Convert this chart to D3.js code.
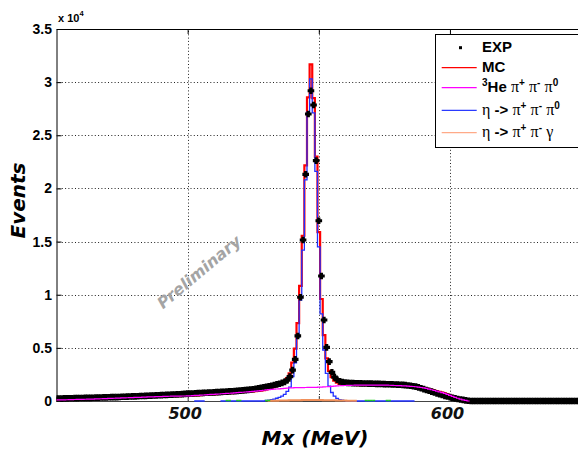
<!DOCTYPE html>
<html>
<head>
<meta charset="utf-8">
<script src="https://cdn.jsdelivr.net/npm/d3@7"></script>
<style>
  body { margin: 0; background: #fff; }
  svg { display: block; }
</style>
</head>
<body>
<svg id="chart" width="578" height="452"></svg>
<script>
// Missing-mass spectrum, 1 MeV bins; each series lists counts from its first bin centre.
const expStart = 450;
const expCounts = [
  230, 240, 225, 250, 245, 260, 255, 270, 265, 280,
  285, 290, 300, 295, 310, 320, 315, 330, 335, 345,
  350, 360, 370, 365, 380, 395, 400, 410, 420, 430,
  440, 450, 465, 470, 480, 495, 505, 515, 525, 540,
  550, 560, 575, 585, 600, 610, 625, 640, 650, 670,
  690, 700, 710, 725, 735, 750, 760, 775, 785, 800,
  815, 830, 840, 855, 870, 885, 900, 915, 935, 955,
  975, 1000, 1020, 1050, 1080, 1110, 1150, 1190, 1230, 1280,
  1330, 1390, 1440, 1500, 1560, 1620, 1700, 1800, 1960, 2300,
  2900, 3920, 6120, 9760, 15150, 21330, 27000, 29190, 27850, 22610,
  16960, 11760, 7620, 5050, 3700, 2700, 2250, 2000, 1850, 1780,
  1740, 1710, 1690, 1680, 1670, 1665, 1660, 1650, 1650, 1640,
  1630, 1620, 1615, 1605, 1600, 1590, 1580, 1575, 1565, 1555,
  1545, 1530, 1515, 1490, 1460, 1430, 1390, 1350, 1280, 1200,
  1120, 1040, 960, 880, 800, 720, 640, 560, 480, 420,
  360, 300, 250, 190, 140, 100, 60, 25, 0, 0,
  0, 0, 0, 0, 0, 0, 0, 0, 0, 0,
  0, 0, 0, 0, 0, 0, 0, 0, 0, 0,
  0, 0, 0, 0, 0, 0, 0, 0, 0, 0,
  0, 0, 0, 0, 0, 0, 0, 0, 0, 0,
  0
];

const mcStart = 450;
const mcTotal = [
  100, 105, 110, 115, 120, 125, 130, 140, 145, 150,
  160, 165, 170, 180, 185, 195, 200, 210, 220, 230,
  245, 250, 260, 270, 275, 285, 295, 305, 315, 325,
  335, 345, 350, 360, 370, 380, 390, 395, 405, 415,
  420, 430, 440, 445, 450, 455, 460, 465, 470, 470,
  475, 490, 505, 520, 535, 550, 565, 580, 600, 615,
  630, 645, 660, 680, 695, 710, 730, 745, 765, 785,
  805, 825, 845, 865, 890, 910, 935, 960, 985, 1010,
  1090, 1170, 1235, 1320, 1425, 1530, 1665, 1860, 2165, 2590,
  3605, 4920, 7330, 10840, 15550, 22160, 28570, 31680, 28490, 22985,
  15890, 9595, 6205, 4015, 2830, 2245, 1910, 1725, 1615, 1565,
  1540, 1525, 1515, 1505, 1505, 1490, 1495, 1495, 1500, 1500,
  1500, 1500, 1500, 1495, 1495, 1490, 1485, 1480, 1470, 1460,
  1450, 1440, 1430, 1415, 1400, 1385, 1365, 1340, 1310, 1270,
  1230, 1180, 1120, 1060, 990, 920, 850, 780, 710, 620,
  530, 440, 350, 260, 180, 110, 50, 0
];

const he3Start = 450;
const he3PiPiPi0 = [
  100, 105, 110, 115, 120, 125, 130, 140, 145, 150,
  160, 165, 170, 180, 185, 195, 200, 210, 220, 230,
  245, 250, 260, 270, 275, 285, 295, 305, 315, 325,
  335, 345, 350, 360, 370, 380, 390, 395, 405, 415,
  420, 430, 440, 445, 450, 455, 460, 465, 470, 470,
  475, 490, 505, 520, 535, 550, 565, 580, 600, 615,
  630, 645, 660, 680, 695, 710, 730, 745, 765, 785,
  805, 825, 845, 865, 890, 910, 935, 960, 985, 1010,
  1040, 1070, 1090, 1110, 1130, 1150, 1170, 1190, 1210, 1230,
  1240, 1250, 1255, 1260, 1265, 1270, 1275, 1280, 1285, 1290,
  1300, 1310, 1325, 1340, 1360, 1380, 1400, 1420, 1435, 1450,
  1460, 1470, 1475, 1480, 1485, 1490, 1495, 1495, 1500, 1500,
  1500, 1500, 1500, 1495, 1495, 1490, 1485, 1480, 1470, 1460,
  1450, 1440, 1430, 1415, 1400, 1385, 1365, 1340, 1310, 1270,
  1230, 1180, 1120, 1060, 990, 920, 850, 780, 710, 620,
  530, 440, 350, 260, 180, 110, 50, 0
];

const eta3piStart = 503;
const etaPiPiPi0 = [
  0, 0, 0, 0,
  null, null, null, null, null, null,
  0, 0, 0, 0, 0, 0, 0, 0, 0, 0, 0, 0, 0, 0, 0, 0, 0,
  50, 80, 120, 180, 260, 340, 450, 620, 900, 1300,
  2300, 3600, 6000, 9500, 14200, 20800, 27200, 30300, 27100, 21600,
  14500, 8200, 4800, 2600, 1400, 800, 450, 250, 130, 70, 40, 20, 10,
  0, 0, 0, 0, 0, 0, 0, 0, 0, 0, 0, 0,
  0, 0, 0, 0, 0, 0, 0, 0, 0, 0, 0, 0
];

const etaGammaStart = 531;
const etaPiPiGamma = [
  20, 25, 30, 35, 40, 45, 50, 55, 60, 65,
  70, 75, 80, 85, 90, 95, 100, 100, 95, 90,
  85, 80, 75, 70, 65, 60, 55, 50, 45, 40,
  35, 30, 25, 20
];

// Minor channel: only a few bins carry entries, all at zero height.
const minorChannelBins = [515, 516, 519, 520, 530, 531, 568, 569, 570, 571, 576, 577];

const yTickValues = [0, 5000, 10000, 15000, 20000, 25000, 30000, 35000];
const yTickLabels = ["0", "0.5", "1", "1.5", "2", "2.5", "3", "3.5"];
const xGridValues = [500, 550, 600];
const xTickLabels = [500, 600];

const legendLabels = ["EXP", "MC", "3He", "eta3pi", "etaGamma"];

// ---------------------------------------------------------------------
const svg = d3.select("#chart");
const x = d3.scaleLinear().domain([450, 650]).range([56.5, 581.1]);
const y = d3.scaleLinear().domain([0, 35000]).range([401, 29]);
const left = x.range()[0];
const right = x.range()[1];

svg.append("defs").append("clipPath").attr("id", "plotClip")
  .append("rect").attr("x", left).attr("y", 0).attr("width", right - left).attr("height", 452);

// dotted grid
const grid = svg.append("g").attr("stroke", "#222").attr("stroke-width", 1)
  .attr("stroke-dasharray", "1,2.3");
grid.selectAll("line.h").data(yTickValues.filter(v => v > 0 && v < 35000)).join("line")
  .attr("class", "h")
  .attr("x1", left + 2).attr("x2", right)
  .attr("y1", d => Math.round(y(d)) + 0.5).attr("y2", d => Math.round(y(d)) + 0.5);
grid.selectAll("line.v").data(xGridValues).join("line")
  .attr("class", "v")
  .attr("x1", d => Math.round(x(d)) + 0.5).attr("x2", d => Math.round(x(d)) + 0.5)
  .attr("y1", 31).attr("y2", 401);

// axes
const yAxis = d3.axisLeft(y).tickValues(yTickValues)
  .tickFormat((d, i) => yTickLabels[i]).tickSize(-5).tickSizeOuter(0).tickPadding(4.5);
svg.append("g").attr("transform", `translate(${left},0)`).call(yAxis)
  .attr("font-family", "'Liberation Sans', Arial, sans-serif")
  .attr("font-weight", "bold").attr("font-size", 14)
  .call(g => g.select(".domain").attr("stroke", "#000"))
  .call(g => g.selectAll(".tick line").attr("stroke", "#000"))
  .call(g => g.selectAll(".tick text").attr("fill", "#000"));

const xAxis = d3.axisBottom(x).tickValues(xGridValues)
  .tickFormat(d => xTickLabels.includes(d) ? d : "").tickSize(-5).tickSizeOuter(0).tickPadding(7);
svg.append("g").attr("transform", "translate(0,401)").call(xAxis)
  .attr("font-family", "'DejaVu Sans', Verdana, sans-serif")
  .attr("font-weight", "bold").attr("font-style", "italic").attr("font-size", 16)
  .call(g => g.select(".domain").attr("stroke", "#444"))
  .call(g => g.selectAll(".tick line").attr("stroke", "#444"))
  .call(g => g.selectAll(".tick text").attr("fill", "#111").attr("dx", -3));

const xAxisTop = d3.axisTop(x).tickValues(xGridValues).tickFormat("")
  .tickSize(-5).tickSizeOuter(0);
svg.append("g").attr("transform", "translate(0,29)").call(xAxisTop)
  .call(g => g.select(".domain").attr("stroke", "#000"))
  .call(g => g.selectAll(".tick line").attr("stroke", "#000"));

// histograms
function stepPoints(start, values) {
  const pts = [];
  values.forEach((v, i) => {
    if (v == null) { pts.push(null); return; }
    const c = start + i;
    pts.push([c - 0.5, v], [c + 0.5, v]);
  });
  return pts;
}
const stepLine = d3.line().defined(d => d != null).x(d => x(d[0])).y(d => y(d[1]));

const plot = svg.append("g").attr("clip-path", "url(#plotClip)");

plot.append("path").datum(stepPoints(mcStart, mcTotal))
  .attr("d", stepLine).attr("fill", "none").attr("stroke", "#ff0000").attr("stroke-width", 2.2);
plot.append("path").datum(stepPoints(eta3piStart, etaPiPiPi0))
  .attr("d", stepLine).attr("fill", "none").attr("stroke", "#1f2fff").attr("stroke-width", 1.3);
plot.append("path").datum(stepPoints(etaGammaStart, etaPiPiGamma))
  .attr("d", stepLine).attr("fill", "none").attr("stroke", "#f0905a").attr("stroke-width", 2);
plot.selectAll("line.minor").data(minorChannelBins).join("line")
  .attr("class", "minor")
  .attr("x1", d => x(d - 0.5)).attr("x2", d => x(d + 0.5))
  .attr("y1", y(0) - 0.5).attr("y2", y(0) - 0.5)
  .attr("stroke", "#22cc22").attr("stroke-width", 1.5);

// data points: thick plus markers that merge into a band where bins are dense
const thickPlus = {
  draw(context, size) {
    const r = Math.sqrt(size) / 2;   // half span
    const a = r * 0.48;              // half arm thickness
    context.moveTo(-r, -a); context.lineTo(-a, -a); context.lineTo(-a, -r);
    context.lineTo(a, -r); context.lineTo(a, -a); context.lineTo(r, -a);
    context.lineTo(r, a); context.lineTo(a, a); context.lineTo(a, r);
    context.lineTo(-a, r); context.lineTo(-a, a); context.lineTo(-r, a);
    context.closePath();
  }
};
const marker = d3.symbol().type(thickPlus).size(44);
plot.append("g").selectAll("path").data(expCounts.map((v, i) => [expStart + i, v]))
  .join("path")
  .attr("transform", d => `translate(${x(d[0])},${y(d[1])})`)
  .attr("d", marker).attr("fill", "#000");

plot.append("path").datum(stepPoints(he3Start, he3PiPiPi0))
  .attr("d", stepLine).attr("fill", "none").attr("stroke", "#ff00ff").attr("stroke-width", 1.2);

// scale factor
const sf = svg.append("text").attr("x", 58).attr("y", 21.5)
  .attr("font-family", "'Liberation Sans', Arial, sans-serif").attr("font-weight", "bold")
  .attr("font-size", 11).attr("fill", "#000");
sf.append("tspan").text("x 10");
sf.append("tspan").attr("font-size", 7.5).attr("dy", -6).text("4");

// axis titles
svg.append("text").attr("transform", "translate(25,200.5) rotate(-90)")
  .attr("text-anchor", "middle")
  .attr("font-family", "'DejaVu Sans', Verdana, sans-serif")
  .attr("font-weight", "bold").attr("font-style", "italic").attr("font-size", 20)
  .attr("fill", "#000").text("Events");
svg.append("text").attr("x", 315).attr("y", 445)
  .attr("text-anchor", "middle")
  .attr("font-family", "'DejaVu Sans', Verdana, sans-serif")
  .attr("font-weight", "bold").attr("font-style", "italic").attr("font-size", 20)
  .attr("fill", "#000").text("Mx (MeV)");

// watermark
svg.append("text").attr("transform", "translate(199,272) rotate(-40)")
  .attr("text-anchor", "middle").attr("dy", "0.35em")
  .attr("font-family", "'DejaVu Sans', Verdana, sans-serif")
  .attr("font-weight", "bold").attr("font-style", "italic").attr("font-size", 16)
  .attr("fill", "#a4a4a4").text("Preliminary");

// legend
const lg = svg.append("g");
lg.append("rect").attr("x", 435.5).attr("y", 34.5).attr("width", 160).attr("height", 113)
  .attr("fill", "#fff").attr("stroke", "#000").attr("stroke-width", 1);

const legendRows = [
  { key: legendLabels[0], lineY: 47.7, textY: 52, color: null },
  { key: legendLabels[1], lineY: 67.7, textY: 72.3, color: "#ff0000" },
  { key: legendLabels[2], lineY: 87.7, textY: 92.3, color: "#ff00ff" },
  { key: legendLabels[3], lineY: 110.3, textY: 114.8, color: "#2a3aff" },
  { key: legendLabels[4], lineY: 132.7, textY: 137.2, color: "#ffaa88" }
];
const richText = {
  EXP: [{ t: "EXP" }],
  MC: [{ t: "MC" }],
  "3He": [{ t: "3", sup: true }, { t: "He " }, { t: "π", g: true }, { t: "+", sup: true }, { t: " " },
          { t: "π", g: true }, { t: "-", sup: true }, { t: " " }, { t: "π", g: true }, { t: "0", sup: true }],
  eta3pi: [{ t: "η", g: true }, { t: " -> " }, { t: "π", g: true }, { t: "+", sup: true }, { t: " " },
           { t: "π", g: true }, { t: "-", sup: true }, { t: " " }, { t: "π", g: true }, { t: "0", sup: true }],
  etaGamma: [{ t: "η", g: true }, { t: " -> " }, { t: "π", g: true }, { t: "+", sup: true }, { t: " " },
             { t: "π", g: true }, { t: "-", sup: true }, { t: " " }, { t: "γ", g: true }]
};

legendRows.forEach(r => {
  if (r.color) {
    lg.append("line").attr("x1", 441.7).attr("x2", 476.7)
      .attr("y1", r.lineY).attr("y2", r.lineY)
      .attr("stroke", r.color).attr("stroke-width", 1.2);
  } else {
    lg.append("rect").attr("x", 459).attr("y", r.lineY - 1.5).attr("width", 3).attr("height", 3).attr("fill", "#000");
  }
  const t = lg.append("text").attr("x", 482).attr("y", r.textY)
    .attr("font-family", "'Liberation Sans', Arial, sans-serif").attr("font-size", 15)
    .attr("font-weight", "bold").attr("fill", "#000");
  let raised = false;
  richText[r.key].forEach(p => {
    const s = t.append("tspan").text(p.t);
    if (p.sup && !raised) { s.attr("dy", -6); raised = true; }
    else if (!p.sup && raised) { s.attr("dy", 6); raised = false; }
    if (p.sup) s.attr("font-size", 10);
    if (p.g) s.attr("font-family", "'Liberation Serif', 'Times New Roman', serif")
      .attr("font-size", 16).attr("font-weight", "normal");
  });
});
</script>
</body>
</html>
